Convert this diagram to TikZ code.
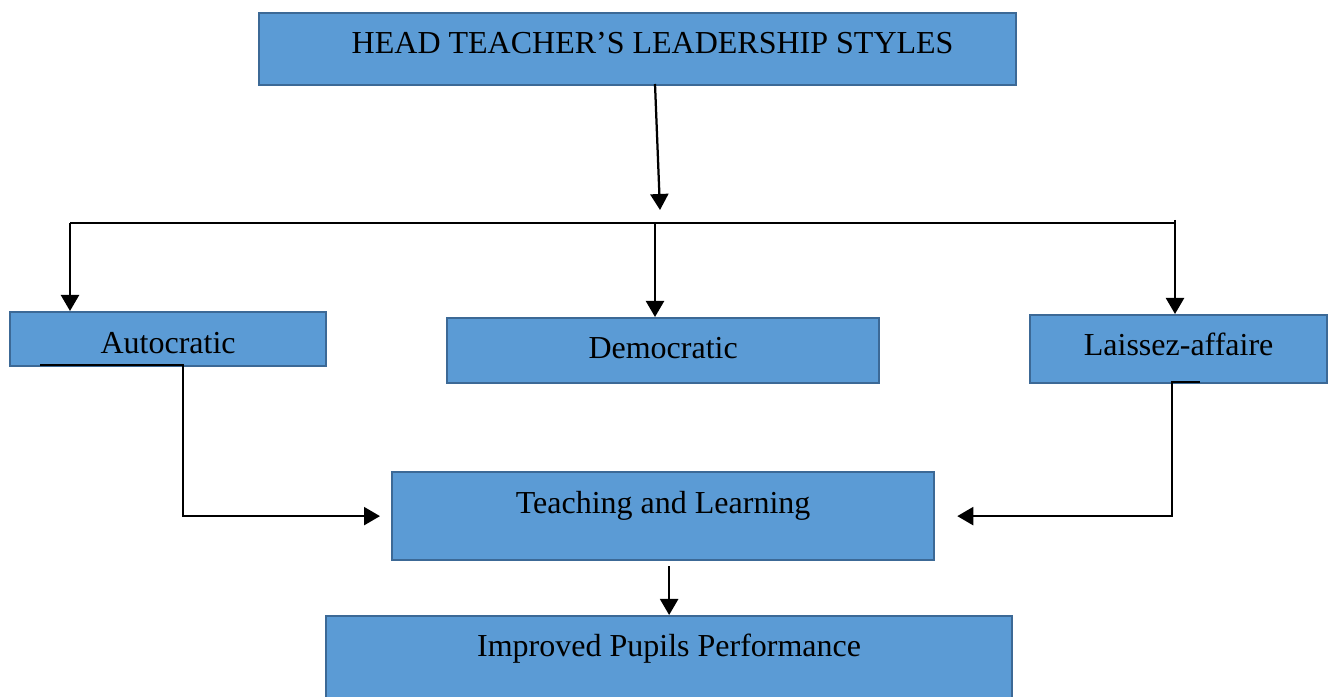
\documentclass[tikz,border=0pt]{standalone}
\usepackage{fontspec}
\setmainfont{Liberation Serif}
\usepackage{tikz}
\usetikzlibrary{arrows.meta}
\definecolor{boxfill}{RGB}{91,155,213}
\definecolor{boxline}{RGB}{60,105,150}
\tikzset{>/.tip={Triangle[length=6.4pt,width=7.2pt]},
  box/.style={draw=boxline, fill=boxfill, line width=0.9pt, anchor=north west,
    inner sep=0pt, font=\fontsize{12.8}{15}\selectfont},
  link/.style={line width=0.9pt}}

\begin{document}
\begin{tikzpicture}[x=0.4pt, y=-0.4pt]
\useasboundingbox (0,0) rectangle (1332,697);

\node[box, minimum width=302.8pt, text height=16pt, text depth=12.8pt] (head) at (258,12) {\hspace*{12pt}HEAD TEACHER'S LEADERSHIP STYLES};
\node[box, minimum width=126.4pt, text height=16.4pt, text depth=5.2pt] (auto) at (9,311) {Autocratic};
\node[box, minimum width=172.8pt, text height=16pt, text depth=10pt] (demo) at (446,317) {Democratic};
\node[box, minimum width=118.8pt, text height=16pt, text depth=11.2pt] (laissez) at (1029,314) {Laissez-affaire};
\node[box, minimum width=216.8pt, text height=16.4pt, text depth=18.8pt] (teach) at (391,471) {Teaching and Learning};
\node[box, minimum width=274.4pt, text height=16pt, text depth=22pt] (perf) at (325,615) {Improved Pupils Performance};

% the bus that feeds the three styles
\coordinate (hub) at (660,210);
\coordinate (bus-l) at (70,223);
\coordinate (bus-m) at (655,223);
\coordinate (bus-r) at (1175,223);
\coordinate (auto-out) at (40,365);
\coordinate (laissez-out) at (1200,382);

\draw[link,->] (655,84) -- (hub);
\draw[link] (bus-l) -- (bus-r);
\draw[link,->] (bus-l) -- (auto.north -| bus-l);
\draw[link,->] (bus-m) -- (demo.north -| bus-m);
\draw[link,->] (1175,220) -- (laissez.north -| bus-r);

\draw[link,->,shorten >=4.4pt] (auto-out) -- (183,365) |- (teach.west);
\draw[link,->,shorten >=8.8pt] (laissez-out) -- (1172,382) |- (teach.east);
\draw[link,->,shorten <=2pt] (teach.south -| perf.north) -- (perf.north);
\end{tikzpicture}
\end{document}
